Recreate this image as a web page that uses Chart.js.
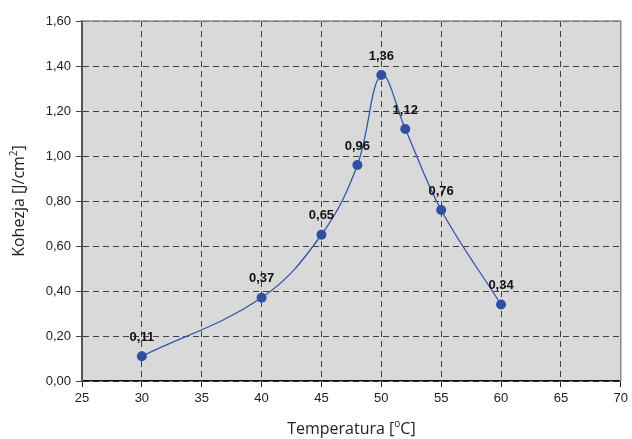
<!DOCTYPE html>
<html>
<head>
<meta charset="utf-8">
<script src="https://cdn.jsdelivr.net/npm/chart.js@4"></script>
<style>
  html, body { margin: 0; padding: 0; background: #fff; }
  #wrap { width: 632px; height: 439px; }
</style>
</head>
<body>
<div id="wrap"><canvas id="c" width="632" height="439"></canvas></div>
<script>
// Kohezja vs temperatura
const temperatures = [30, 40, 45, 48, 50, 52, 55, 60];
const cohesion = [0.11, 0.37, 0.65, 0.96, 1.36, 1.12, 0.76, 0.34];
const xTicks = [25, 30, 35, 40, 45, 50, 55, 60, 65, 70];
const yTicks = [0, 0.2, 0.4, 0.6, 0.8, 1.0, 1.2, 1.4, 1.6];

const FONT = "'Liberation Sans', Arial, sans-serif";
const TITLE_FONT = "'Open Sans', sans-serif";
const comma = (v, d) => v.toFixed(d).replace(".", ",");

const plotFrame = {
  id: "plotFrame",
  beforeDraw(chart) {
    const { ctx, chartArea: a } = chart;
    ctx.save();
    ctx.fillStyle = "#d9d9d9";
    ctx.fillRect(a.left, a.top, a.right - a.left, a.bottom - a.top);
    ctx.restore();
  },
  afterDraw(chart) {
    const { ctx, chartArea: a } = chart;
    ctx.save();
    ctx.strokeStyle = "#8c8c8c";
    ctx.lineWidth = 1.5;
    ctx.beginPath();
    ctx.moveTo(a.left, a.top);
    ctx.lineTo(a.right, a.top);
    ctx.lineTo(a.right, a.bottom);
    ctx.stroke();

    // axis titles with superscripts
    ctx.fillStyle = "#222";
    ctx.textBaseline = "alphabetic";
    const big = "16px " + TITLE_FONT, small = "10px " + TITLE_FONT;
    // x title
    const parts = [["Temperatura [", big, 0], ["o", small, -7], ["C]", big, 0]];
    let w = 0;
    parts.forEach(p => { ctx.font = p[1]; w += ctx.measureText(p[0]).width; });
    let x = (a.left + a.right) / 2 - w / 2;
    parts.forEach(p => {
      ctx.font = p[1];
      ctx.fillText(p[0], x, 434 + p[2]);
      x += ctx.measureText(p[0]).width;
    });
    // y title
    ctx.translate(24, (a.top + a.bottom) / 2);
    ctx.rotate(-Math.PI / 2);
    const yparts = [["Kohezja [J/cm", big, 0], ["2", small, -7], ["]", big, 0]];
    w = 0;
    yparts.forEach(p => { ctx.font = p[1]; w += ctx.measureText(p[0]).width; });
    x = -w / 2;
    yparts.forEach(p => {
      ctx.font = p[1];
      ctx.fillText(p[0], x, p[2]);
      x += ctx.measureText(p[0]).width;
    });
    ctx.restore();
  },
};

const valueLabels = {
  id: "valueLabels",
  afterDatasetsDraw(chart) {
    const { ctx } = chart;
    const meta = chart.getDatasetMeta(0);
    ctx.save();
    ctx.font = "bold 13px " + FONT;
    ctx.fillStyle = "#111";
    ctx.textAlign = "center";
    ctx.textBaseline = "middle";
    meta.data.forEach((pt, i) => {
      ctx.fillText(comma(cohesion[i], 2), pt.x, pt.y - 19);
    });
    ctx.restore();
  },
};

new Chart(document.getElementById("c"), {
  type: "scatter",
  data: {
    datasets: [{
      data: temperatures.map((t, i) => ({ x: t, y: cohesion[i] })),
      showLine: true,
      tension: 0.38,
      borderColor: "#3355aa",
      borderWidth: 1.3,
      pointRadius: 5,
      pointHoverRadius: 5,
      pointBackgroundColor: "#2f4fa0",
      pointBorderColor: "#2f4fa0",
      pointBorderWidth: 0,
    }],
  },
  options: {
    responsive: false,
    animation: false,
    devicePixelRatio: 1,
    layout: { padding: { top: 21, right: 8, left: 0, bottom: 0 } },
    plugins: { legend: { display: false }, tooltip: { enabled: false } },
    scales: {
      x: {
        type: "linear",
        min: 25, max: 70,
        afterBuildTicks: (s) => { s.ticks = xTicks.map(v => ({ value: v })); },
        afterFit: (s) => { s.height = 58; },
        ticks: { color: "#222", font: { family: FONT, size: 13 }, padding: 4, maxRotation: 0 },
        grid: { color: "#404040", lineWidth: 1, tickLength: 6, tickColor: "#222" },
        border: { color: "#111", width: 1.5, dash: [6, 4] },
      },
      y: {
        min: 0, max: 1.6,
        afterBuildTicks: (s) => { s.ticks = yTicks.map(v => ({ value: v })); },
        afterFit: (s) => { s.width = 82; },
        ticks: { color: "#222", font: { family: FONT, size: 13 }, padding: 5, callback: (v) => comma(v, 2) },
        grid: { color: "#404040", lineWidth: 1, tickLength: 6, tickColor: "#444" },
        border: { color: "#555", width: 2, dash: [6, 4] },
      },
    },
  },
  plugins: [plotFrame, valueLabels],
});
</script>
</body>
</html>
